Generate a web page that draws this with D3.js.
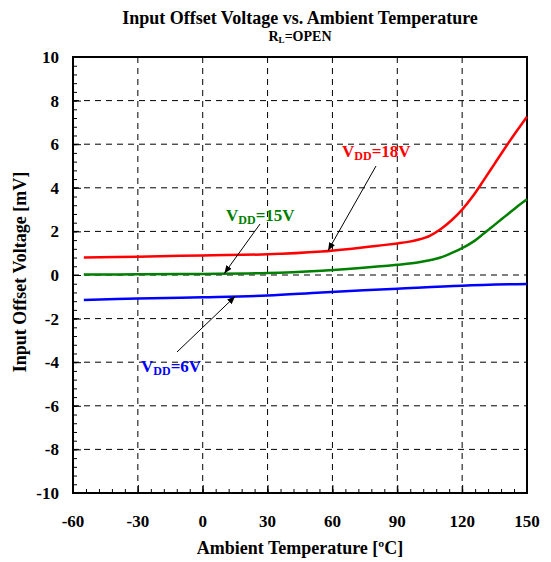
<!DOCTYPE html>
<html>
<head>
<meta charset="utf-8">
<script src="https://cdn.jsdelivr.net/npm/d3@7"></script>
<style>
  body { margin: 0; background: #fff; }
  svg text { font-family: "Liberation Serif", "DejaVu Serif", serif; font-weight: bold; }
</style>
</head>
<body>
<script>
// values
const xTicks = [-60, -30, 0, 30, 60, 90, 120, 150];
const yTicks = [-10, -8, -6, -4, -2, 0, 2, 4, 6, 8, 10];

const redT = [-55, -30, 0, 30, 55, 70, 80, 90, 95, 100, 105, 110, 115, 120, 125, 130, 135, 140, 145, 150];
const redV = [0.80, 0.84, 0.90, 0.95, 1.08, 1.22, 1.33, 1.45, 1.52, 1.63, 1.80, 2.10, 2.50, 3.00, 3.62, 4.35, 5.10, 5.85, 6.57, 7.26];

const greenT = [-55, -30, 0, 30, 55, 70, 90, 100, 105, 110, 115, 120, 125, 130, 135, 140, 145, 150];
const greenV = [0.02, 0.03, 0.05, 0.09, 0.20, 0.30, 0.47, 0.58, 0.68, 0.80, 1.00, 1.23, 1.52, 1.90, 2.30, 2.70, 3.10, 3.47];

const blueT = [-55, -30, 0, 30, 55, 90, 120, 150];
const blueV = [-1.15, -1.08, -1.02, -0.94, -0.80, -0.63, -0.49, -0.41];

const width = 551, height = 562;
const margin = {top: 57, right: 24, bottom: 69, left: 73};
const serif = "'Liberation Serif', 'DejaVu Serif', serif";

const svg = d3.select("body").append("svg")
    .attr("width", width)
    .attr("height", height)
    .attr("font-family", serif);

const x = d3.scaleLinear().domain([-60, 150]).range([margin.left, width - margin.right]);
const y = d3.scaleLinear().domain([-10, 10]).range([height - margin.bottom, margin.top]);

// dashed grid
svg.append("g")
    .selectAll("line")
    .data(xTicks.slice(1, -1))
    .join("line")
    .attr("x1", d => x(d)).attr("x2", d => x(d))
    .attr("y1", y(10)).attr("y2", y(-10))
    .attr("stroke", "#000")
    .attr("stroke-width", 1)
    .attr("stroke-dasharray", "6,5");

svg.append("g")
    .selectAll("line")
    .data(yTicks.slice(1, -1))
    .join("line")
    .attr("y1", d => y(d)).attr("y2", d => y(d))
    .attr("x1", x(-60)).attr("x2", x(150))
    .attr("stroke", "#000")
    .attr("stroke-width", 1)
    .attr("stroke-dasharray", "6,5");

// inward ticks, minor then major
const xAxis = d3.axisBottom(x).tickValues(d3.range(-60, 151, 6)).tickSize(-4).tickFormat("");
const yAxis = d3.axisLeft(y).tickValues(d3.range(-10, 10.01, 0.4)).tickSize(-4).tickFormat("");

svg.append("g")
    .attr("transform", `translate(0,${y(-10)})`)
    .call(xAxis)
    .call(g => g.select(".domain").remove());

svg.append("g")
    .attr("transform", `translate(${x(-60)},0)`)
    .call(yAxis)
    .call(g => g.select(".domain").remove());

svg.append("g")
    .attr("transform", `translate(0,${y(-10)})`)
    .call(d3.axisBottom(x).tickValues(xTicks).tickSize(-8).tickFormat(""))
    .call(g => g.select(".domain").remove());

svg.append("g")
    .attr("transform", `translate(${x(-60)},0)`)
    .call(d3.axisLeft(y).tickValues(yTicks).tickSize(-8).tickFormat(""))
    .call(g => g.select(".domain").remove());

// tick labels
svg.append("g")
    .selectAll("text")
    .data(xTicks)
    .join("text")
    .attr("x", d => x(d))
    .attr("y", y(-10) + 34)
    .attr("text-anchor", "middle")
    .attr("font-size", 17)
    .attr("font-weight", "bold")
    .text(d => d);

svg.append("g")
    .selectAll("text")
    .data(yTicks)
    .join("text")
    .attr("x", x(-60) - 14)
    .attr("y", d => y(d) + 6)
    .attr("text-anchor", "end")
    .attr("font-size", 17)
    .attr("font-weight", "bold")
    .text(d => d);

// frame
svg.append("rect")
    .attr("x", x(-60)).attr("y", y(10))
    .attr("width", x(150) - x(-60))
    .attr("height", y(-10) - y(10))
    .attr("fill", "none")
    .attr("stroke", "#000")
    .attr("stroke-width", 2);

// curves
const line = d3.line()
    .x(d => x(d[0]))
    .y(d => y(d[1]))
    .curve(d3.curveCatmullRom.alpha(0.5));

const series = [
  {t: redT, v: redV, color: "#ff0000"},
  {t: greenT, v: greenV, color: "#008000"},
  {t: blueT, v: blueV, color: "#0000ff"}
];

svg.append("g")
    .selectAll("path")
    .data(series)
    .join("path")
    .attr("d", s => line(s.t.map((t, i) => [t, s.v[i]])))
    .attr("fill", "none")
    .attr("stroke", s => s.color)
    .attr("stroke-width", 2.5);

// annotations
svg.append("defs").append("marker")
    .attr("id", "arrow")
    .attr("viewBox", "0 -5 10 10")
    .attr("refX", 10)
    .attr("refY", 0)
    .attr("markerWidth", 8)
    .attr("markerHeight", 8)
    .attr("markerUnits", "userSpaceOnUse")
    .attr("orient", "auto")
    .append("path")
    .attr("d", "M0,-4 L10,0 L0,4 z")
    .attr("fill", "#000");

const notes = [
  {label: "18V", color: "#ff0000", tx: 342, ty: 157, from: [376, 166], to: [58, 1.12]},
  {label: "15V", color: "#008000", tx: 226, ty: 221, from: [260, 224], to: [10, 0.07]},
  {label: "6V", color: "#0000ff", tx: 141, ty: 372, from: [177, 352], to: [15, -0.98]}
];

notes.forEach(n => {
  svg.append("line")
      .attr("x1", n.from[0]).attr("y1", n.from[1])
      .attr("x2", x(n.to[0])).attr("y2", y(n.to[1]))
      .attr("stroke", "#000")
      .attr("stroke-width", 1)
      .attr("marker-end", "url(#arrow)");
  const t = svg.append("text")
      .attr("x", n.tx).attr("y", n.ty)
      .attr("fill", n.color)
      .attr("font-size", 17)
      .attr("font-weight", "bold");
  t.append("tspan").text("V");
  t.append("tspan").attr("font-size", 12).attr("dy", 3).text("DD");
  t.append("tspan").attr("dy", -3).text("=" + n.label);
});

// titles
svg.append("text")
    .attr("x", 300).attr("y", 24)
    .attr("text-anchor", "middle")
    .attr("font-size", 18)
    .attr("font-weight", "bold")
    .text("Input Offset Voltage vs. Ambient Temperature");

const sub = svg.append("text")
    .attr("x", 300).attr("y", 41)
    .attr("text-anchor", "middle")
    .attr("font-size", 14)
    .attr("font-weight", "bold");
sub.append("tspan").text("R");
sub.append("tspan").attr("font-size", 9).attr("dy", 2).text("L");
sub.append("tspan").attr("dy", -2).text("=OPEN");

svg.append("text")
    .attr("x", 300).attr("y", 554)
    .attr("text-anchor", "middle")
    .attr("font-size", 18)
    .attr("font-weight", "bold")
    .text("Ambient Temperature [ºC]");

svg.append("text")
    .attr("transform", `translate(26,${y(0) - 3}) rotate(-90)`)
    .attr("text-anchor", "middle")
    .attr("font-size", 18)
    .attr("font-weight", "bold")
    .text("Input Offset Voltage [mV]");
</script>
</body>
</html>
